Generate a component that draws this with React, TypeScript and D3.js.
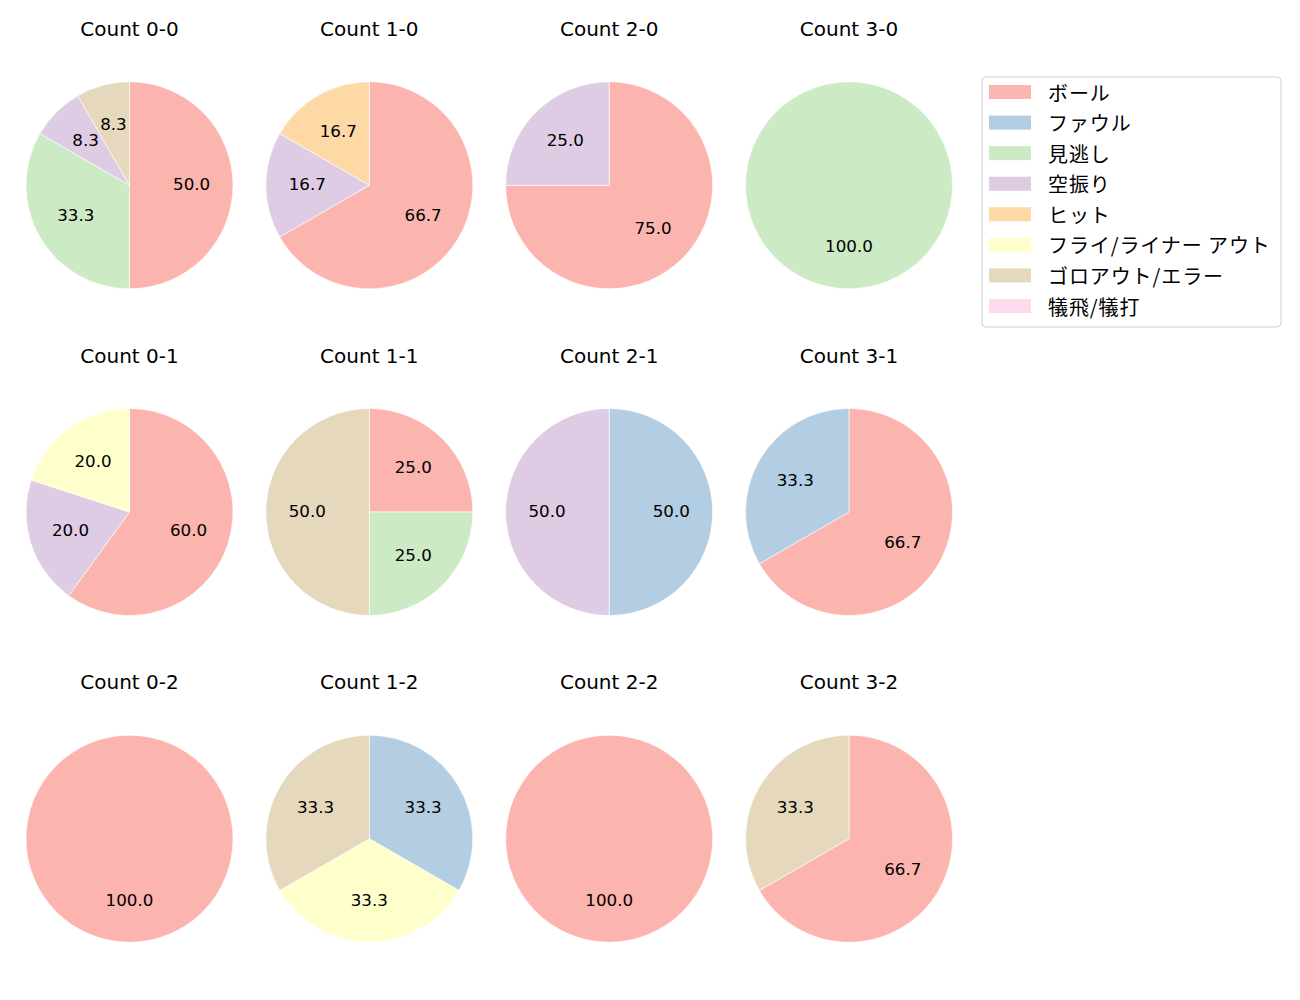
import React from "react";
import * as d3 from "d3";

const categories = ["ボール", "ファウル", "見逃し", "空振り", "ヒット", "フライ/ライナー アウト", "ゴロアウト/エラー", "犠飛/犠打"];
const colors = ["#fbb4ae", "#b3cde3", "#ccebc5", "#decbe4", "#fed9a6", "#ffffcc", "#e5d8bd", "#fddaec"];

const titles = [
  "Count 0-0", "Count 1-0", "Count 2-0", "Count 3-0",
  "Count 0-1", "Count 1-1", "Count 2-1", "Count 3-1",
  "Count 0-2", "Count 1-2", "Count 2-2", "Count 3-2",
];

// counts per category in the order of `categories`
const counts00 = [6, 0, 4, 1, 0, 0, 1, 0];
const counts10 = [4, 0, 0, 1, 1, 0, 0, 0];
const counts20 = [3, 0, 0, 1, 0, 0, 0, 0];
const counts30 = [0, 0, 1, 0, 0, 0, 0, 0];
const counts01 = [3, 0, 0, 1, 0, 1, 0, 0];
const counts11 = [1, 0, 1, 0, 0, 0, 2, 0];
const counts21 = [0, 1, 0, 1, 0, 0, 0, 0];
const counts31 = [2, 1, 0, 0, 0, 0, 0, 0];
const counts02 = [1, 0, 0, 0, 0, 0, 0, 0];
const counts12 = [0, 1, 0, 0, 0, 1, 1, 0];
const counts22 = [1, 0, 0, 0, 0, 0, 0, 0];
const counts32 = [2, 0, 0, 0, 0, 0, 1, 0];

const allCounts = [
  counts00, counts10, counts20, counts30,
  counts01, counts11, counts21, counts31,
  counts02, counts12, counts22, counts32,
];

const FONT = "'DejaVu Sans', 'Noto Sans CJK JP', sans-serif";
const LEGEND_FONT = "'Noto Sans CJK JP', 'DejaVu Sans', sans-serif";

export default function App() {
  const W = 1300, H = 1000;
  const R = 103.5;
  const colX = d3.scaleLinear().domain([0, 3]).range([129.5, 849]);
  const rowY = d3.scaleLinear().domain([0, 2]).range([185.3, 838.7]);
  const pie = d3.pie<number>().sort(null).value((d) => d).startAngle(0).endAngle(2 * Math.PI);
  const arc = d3.arc<d3.PieArcDatum<number>>().innerRadius(0).outerRadius(R);
  const legendRow = d3.scaleLinear().domain([0, 7]).range([92, 306]);

  return (
    <svg width={W} height={H} style={{ position: "absolute", left: 0, top: 0, background: "#fff" }} fontFamily={FONT}>
      {allCounts.map((counts, i) => {
        const cx = colX(i % 4);
        const cy = rowY(Math.floor(i / 4));
        const total = d3.sum(counts);
        const arcs = pie(counts);
        return (
          <g key={i}>
            <text x={cx} y={cy - 156.5} textAnchor="middle" dominantBaseline="central" fontSize={20} fill="#000">
              {titles[i]}
            </text>
            <g transform={`translate(${cx},${cy})`}>
              {arcs.map((a, j) =>
                a.value > 0 ? (
                  <path key={j} d={arc(a) || ""} fill={colors[j]} stroke="#fff" strokeWidth={0.6} />
                ) : null
              )}
              {arcs.map((a, j) => {
                if (a.value <= 0) return null;
                const mid = (a.startAngle + a.endAngle) / 2;
                const lx = Math.sin(mid) * R * 0.6;
                const ly = -Math.cos(mid) * R * 0.6 - 1;
                return (
                  <text key={"t" + j} x={lx} y={ly} textAnchor="middle" dominantBaseline="central" fontSize={16.7} fill="#000">
                    {((a.value / total) * 100).toFixed(1)}
                  </text>
                );
              })}
            </g>
          </g>
        );
      })}
      <rect x={982} y={77} width={299} height={250} rx={4} fill="#fff" stroke="#d0d0d0" strokeWidth={1} />
      {categories.map((c, i) => (
        <g key={c}>
          <rect x={989} y={legendRow(i) - 7} width={42} height={14} fill={colors[i]} />
          <text x={1048} y={legendRow(i)} dominantBaseline="central" fontSize={20} fill="#000" fontFamily={LEGEND_FONT} letterSpacing={0.9}>
            {c}
          </text>
        </g>
      ))}
    </svg>
  );
}
